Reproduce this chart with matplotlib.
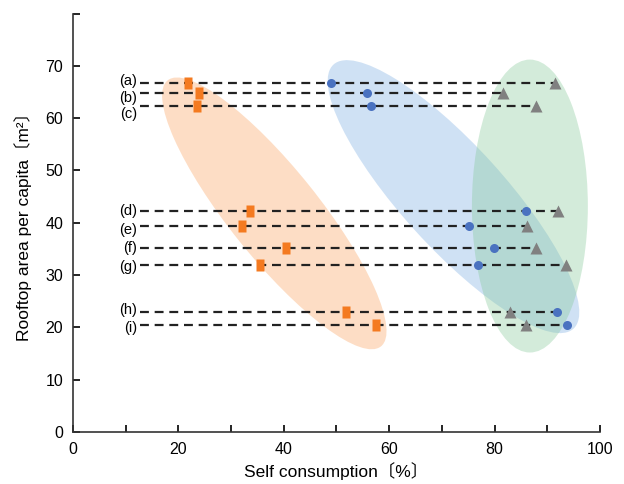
import matplotlib.pyplot as plt
from matplotlib.patches import Ellipse

plt.rcParams['font.family'] = ['Liberation Sans', 'Noto Sans CJK JP', 'DejaVu Sans']

# row labels and rooftop area (m2 per capita)
labels = ['(a)', '(b)', '(c)', '(d)', '(e)', '(f)', '(g)', '(h)', '(i)']
area = [66.7, 64.8, 62.3, 42.3, 39.4, 35.2, 31.9, 22.9, 20.5]

# self consumption (%) for the three groups
orange_x = [21.8, 23.9, 23.5, 33.6, 32.1, 40.4, 35.5, 51.8, 57.5]
blue_x = [49.0, 55.8, 56.5, 86.0, 75.1, 79.9, 76.9, 91.8, 93.7]
gray_x = [91.5, 81.6, 87.9, 92.0, 86.1, 87.9, 93.5, 82.9, 86.0]

# small vertical nudges so the row labels don't collide
label_nudge = [0.5, -0.9, -1.5, 0, -0.8, 0, -0.4, 0.4, -0.7]

fig = plt.figure(figsize=(6.24, 4.84), dpi=100)
ax = fig.add_axes([0.117, 0.1074, 0.8445, 0.8646])

# shaded groups
ax.add_patch(Ellipse((38.2, 41.8), 65, 17, angle=-51.5,
                     facecolor=(250/255, 160/255, 90/255), alpha=0.35, lw=0, zorder=1))
ax.add_patch(Ellipse((72.2, 45.0), 68, 19.5, angle=-48,
                     facecolor=(120/255, 170/255, 225/255), alpha=0.35, lw=0, zorder=1))
ax.add_patch(Ellipse((86.7, 43.2), 22, 56, angle=0,
                     facecolor=(130/255, 200/255, 150/255), alpha=0.35, lw=0, zorder=1))

# dashed guide lines and row labels
for lab, y, dy, a, b, c in zip(labels, area, label_nudge, orange_x, blue_x, gray_x):
    ax.plot([12.7, max(a, b, c)], [y, y], ls=(0, (4, 2.6)), lw=1.6,
            color='#222222', zorder=2)
    ax.text(12.2, y + dy, lab, ha='right', va='center', fontsize=10.5)

rect = [(-0.65, -1), (0.65, -1), (0.65, 1), (-0.65, 1), (-0.65, -1)]
ax.plot(orange_x, area, ls='none', marker=rect, ms=9, color='#F47A20',
        mec='none', zorder=3)
ax.plot(blue_x, area, ls='none', marker='o', ms=6.5, color='#4A72C0',
        mec='none', zorder=3)
ax.plot(gray_x, area, ls='none', marker='^', ms=8, color='#808080',
        mec='none', zorder=3)

ax.set_xlim(0, 100)
ax.set_ylim(0, 80)
ax.set_xticks(range(0, 101, 10))
ax.set_xticklabels([str(v) if v % 20 == 0 else '' for v in range(0, 101, 10)])
ax.set_yticks(range(0, 81, 10))
ax.set_yticklabels([str(v) if v < 80 else '' for v in range(0, 81, 10)])
ax.tick_params(direction='in', length=5, width=1.2, labelsize=11.5, pad=7)
ax.spines['top'].set_visible(False)
ax.spines['right'].set_visible(False)
for s in ['left', 'bottom']:
    ax.spines[s].set_linewidth(1.2)
    ax.spines[s].set_color('#333333')

ax.set_xlabel('Self consumption〔%〕', fontsize=12.5, labelpad=4)
ax.set_ylabel('Rooftop area per capita〔m²〕', fontsize=12.5, labelpad=10)

fig.savefig('out.png', dpi=100)
